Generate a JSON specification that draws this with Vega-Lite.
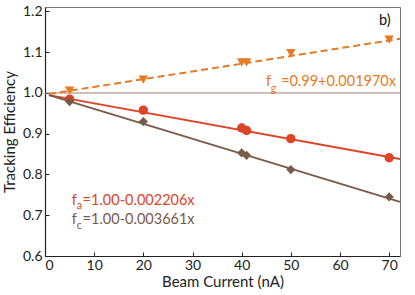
{
  "$schema": "https://vega.github.io/schema/vega-lite/v6.json",
  "width": 355,
  "height": 249,
  "autosize": {"type": "none"},
  "padding": {"left": 45, "top": 7, "right": 15, "bottom": 39},
  "background": "white",
  "config": {
    "font": "Lato",
    "view": {"stroke": "#777", "strokeWidth": 1},
    "axis": {
      "grid": false,
      "domainColor": "#222",
      "domainWidth": 1.2,
      "tickColor": "#222",
      "tickSize": -4,
      "labelFont": "Lato",
      "labelFontSize": 14,
      "labelColor": "#222",
      "titleFont": "Lato",
      "titleFontSize": 15,
      "titleFontWeight": "normal",
      "titleColor": "#222"
    }
  },
  "datasets": {
    "points": [
      {"x": 5, "y": 1.006, "s": "g"},
      {"x": 20, "y": 1.033, "s": "g"},
      {"x": 40, "y": 1.075, "s": "g"},
      {"x": 41, "y": 1.075, "s": "g"},
      {"x": 50, "y": 1.098, "s": "g"},
      {"x": 70, "y": 1.131, "s": "g"},
      {"x": 5, "y": 0.985, "s": "a"},
      {"x": 20, "y": 0.958, "s": "a"},
      {"x": 40, "y": 0.914, "s": "a"},
      {"x": 41, "y": 0.908, "s": "a"},
      {"x": 50, "y": 0.888, "s": "a"},
      {"x": 70, "y": 0.841, "s": "a"},
      {"x": 5, "y": 0.979, "s": "c"},
      {"x": 20, "y": 0.930, "s": "c"},
      {"x": 40, "y": 0.853, "s": "c"},
      {"x": 41, "y": 0.847, "s": "c"},
      {"x": 50, "y": 0.812, "s": "c"},
      {"x": 70, "y": 0.745, "s": "c"}
    ],
    "fits": [
      {"x": 0.8, "y": 0.9975, "s": "g"},
      {"x": 72.2, "y": 1.133, "s": "g"},
      {"x": 0.8, "y": 0.995, "s": "a"},
      {"x": 72.2, "y": 0.838, "s": "a"},
      {"x": 0.8, "y": 0.995, "s": "c"},
      {"x": 72.2, "y": 0.733, "s": "c"}
    ],
    "labels": [
      {"x": 44.94, "y": 1.0167, "t": "f", "k": "main", "s": "g"},
      {"x": 45.9, "y": 1.003, "t": "g", "k": "sub", "s": "g"},
      {"x": 48.0, "y": 1.0167, "t": "=0.99+0.001970x", "k": "main", "s": "g"},
      {"x": 5.45, "y": 0.7245, "t": "f", "k": "main", "s": "a"},
      {"x": 6.45, "y": 0.7157, "t": "a", "k": "sub", "s": "a"},
      {"x": 7.65, "y": 0.7245, "t": "=1.00-0.002206x", "k": "main", "s": "a"},
      {"x": 5.45, "y": 0.679, "t": "f", "k": "main", "s": "c"},
      {"x": 6.45, "y": 0.667, "t": "c", "k": "sub", "s": "c"},
      {"x": 7.65, "y": 0.679, "t": "=1.00-0.003661x", "k": "main", "s": "c"}
    ]
  },
  "layer": [
    {
      "data": {"values": [{"y": 1.0}]},
      "mark": {"type": "rule", "color": "#9a8270", "strokeWidth": 1},
      "encoding": {"y": {"field": "y", "type": "quantitative"}}
    },
    {
      "data": {"name": "fits"},
      "transform": [{"filter": "datum.s == 'g'"}],
      "mark": {"type": "line", "color": "#E57B25", "strokeWidth": 2, "strokeDash": [7, 4]},
      "encoding": {
        "x": {"field": "x", "type": "quantitative", "scale": {"domain": [0, 72.2], "nice": false, "zero": false}, "axis": {"title": "Beam Current (nA)", "values": [0, 10, 20, 30, 40, 50, 60, 70], "labelPadding": 6, "titlePadding": 2}},
        "y": {"field": "y", "type": "quantitative", "scale": {"domain": [0.6, 1.211], "nice": false, "zero": false}, "axis": {"title": "Tracking Efficiency", "values": [0.6, 0.7, 0.8, 0.9, 1.0, 1.1, 1.2], "format": ".1f", "labelPadding": 7, "titlePadding": 5}}
      }
    },
    {
      "data": {"name": "fits"},
      "transform": [{"filter": "datum.s != 'g'"}],
      "mark": {"type": "line", "strokeWidth": 1.8},
      "encoding": {
        "x": {"field": "x", "type": "quantitative"},
        "y": {"field": "y", "type": "quantitative"},
        "detail": {"field": "s"},
        "color": {"field": "s", "type": "nominal", "scale": {"domain": ["g", "a", "c"], "range": ["#E57B25", "#DD4426", "#7A5A48"]}, "legend": null}
      }
    },
    {
      "data": {"name": "points"},
      "mark": {"type": "point", "filled": true, "opacity": 1},
      "encoding": {
        "x": {"field": "x", "type": "quantitative"},
        "y": {"field": "y", "type": "quantitative"},
        "color": {"field": "s", "type": "nominal", "legend": null},
        "shape": {"field": "s", "type": "nominal", "scale": {"domain": ["g", "a", "c"], "range": ["triangle-down", "circle", "diamond"]}, "legend": null},
        "size": {"field": "s", "type": "nominal", "scale": {"domain": ["g", "a", "c"], "range": [90, 85, 70]}, "legend": null}
      }
    },
    {
      "data": {"name": "labels"},
      "transform": [{"filter": "datum.k == 'main'"}],
      "mark": {"type": "text", "align": "left", "baseline": "alphabetic", "fontSize": 14.5, "font": "Lato"},
      "encoding": {
        "x": {"field": "x", "type": "quantitative"},
        "y": {"field": "y", "type": "quantitative"},
        "text": {"field": "t"},
        "color": {"field": "s", "type": "nominal", "legend": null}
      }
    },
    {
      "data": {"name": "labels"},
      "transform": [{"filter": "datum.k == 'sub'"}],
      "mark": {"type": "text", "align": "left", "baseline": "alphabetic", "fontSize": 10.5, "font": "Lato"},
      "encoding": {
        "x": {"field": "x", "type": "quantitative"},
        "y": {"field": "y", "type": "quantitative"},
        "text": {"field": "t"},
        "color": {"field": "s", "type": "nominal", "legend": null}
      }
    },
    {
      "data": {"values": [{"x": 70.3, "y": 1.167, "t": "b)"}]},
      "mark": {"type": "text", "align": "right", "baseline": "alphabetic", "fontSize": 14.5, "font": "Lato", "color": "#111"},
      "encoding": {
        "x": {"field": "x", "type": "quantitative"},
        "y": {"field": "y", "type": "quantitative"},
        "text": {"field": "t"}
      }
    }
  ]
}
